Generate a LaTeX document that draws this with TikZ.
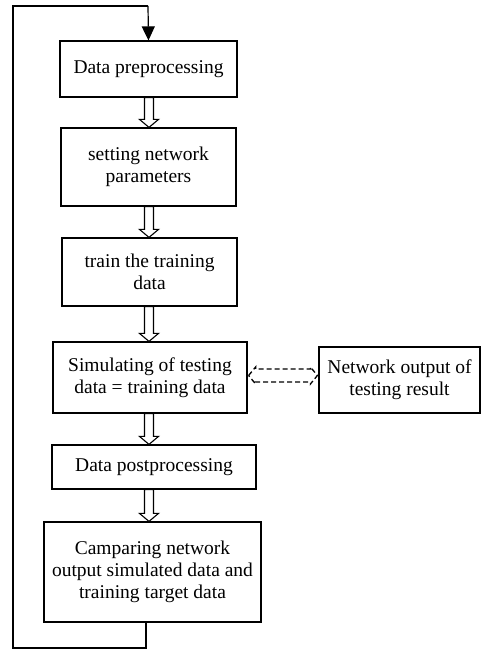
\documentclass[tikz,border=0pt]{standalone}
\usepackage{fontspec}
\setmainfont{Liberation Serif}
\usetikzlibrary{arrows.meta,calc}
\begin{document}
\begin{tikzpicture}[x=1pt,y=-1pt,
  box/.style={draw,line width=1.2pt,inner sep=0pt,align=center,font=\fontsize{19.5}{22}\selectfont},
  loopline/.style={line width=1.2pt},
  hollow/.style={draw,line width=1.1pt,fill=white}]
\useasboundingbox (0,0) rectangle (487,650);
\node[box,minimum width=177,minimum height=56] (b1) at (148.5,69) {Data preprocessing};
\node[box,minimum width=175,minimum height=78] (b2) at (148.5,167) {setting network\\parameters};
\node[box,minimum width=175,minimum height=68] (b3) at (149.5,272) {train the training\\data};
\node[box,minimum width=194,minimum height=71] (b4) at (150,377.5) {Simulating of testing\\data = training data};
\node[box,minimum width=161,minimum height=66] (b5) at (399.5,380) {Network output of\\testing result};
\node[box,minimum width=204,minimum height=44] (b6) at (154,467) {Data postprocessing};
\node[box,minimum width=217,minimum height=100] (b7) at (152.5,572) {Camparing network\\output simulated data and\\training target data};
% hollow block arrows
\foreach \a/\b in {b1/b2,b2/b3,b3/b4,b4/b6,b6/b7}{
  \draw[hollow] let \p1=(\a.south), \p2=(\b.north) in
    (149-4.5,\y1) -- (149+4.5,\y1) -- (149+4.5,\y2+8) -- (149+9.5,\y2+8) -- (149,\y2) -- (149-9.5,\y2+8) -- (149-4.5,\y2+8) -- cycle;
}
% dashed double arrow
\draw[line width=1.3pt,dash pattern=on 5pt off 3pt] let \p1=(b4.east), \p2=(b5.west) in
  (\x1+1,375.5) -- (\x1+8,367) -- (\x1+8,369) -- (\x2-8,369) -- (\x2-8,367) -- (\x2-1,375.5)
  -- (\x2-8,384) -- (\x2-8,382) -- (\x1+8,382) -- (\x1+8,384) -- cycle;
% feedback loop
\coordinate (c1) at (146,648);
\coordinate (c2) at (13,648);
\coordinate (c3) at (13,6);
\coordinate (c4) at (148,6);
\draw[loopline] (b7.south -| c1) -- (c1) -- (c2) -- (c3) -- (c4);
\draw[loopline,-{Triangle[length=14pt,width=13pt]}] (c4) -- (b1.north);
\end{tikzpicture}
\end{document}
